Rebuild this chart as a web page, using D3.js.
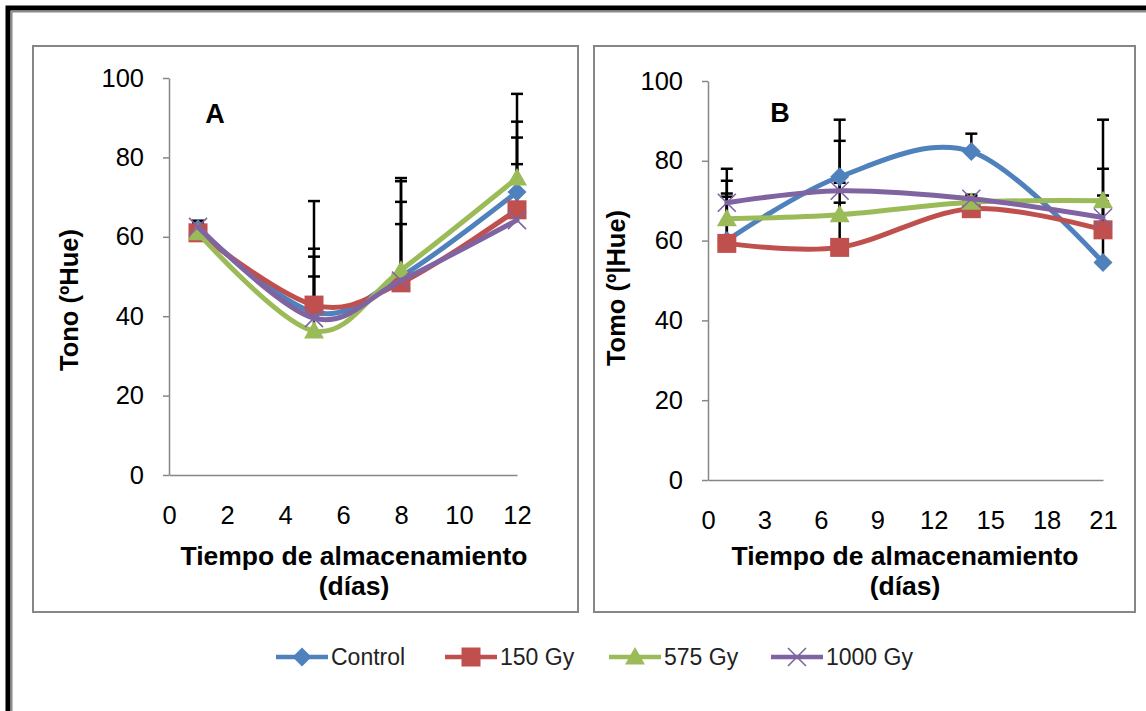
<!DOCTYPE html>
<html lang="es">
<head>
<meta charset="UTF-8" />
<title>Tono (ºHue) durante el almacenamiento</title>
<style>
  body { margin: 0; background: #fff; }
  svg { display: block; font-family: "Liberation Sans", Arial, sans-serif; }
</style>
</head>
<body>
<script src="https://cdn.jsdelivr.net/npm/d3@7"></script>
<svg id="chart" width="1146" height="711"></svg>
<script>
  // ---- datos ----
  const seriesNames = ['Control', '150 Gy', '575 Gy', '1000 Gy'];

  // panel A (días 1..12)
  const daysA = [1, 5, 8, 12];
  const controlA = [62, 41, 50, 71.3];
  const gy150A = [61, 42.8, 48.4, 66.8];
  const gy575A = [61, 36.3, 51.6, 74.8];
  const gy1000A = [62.5, 39.5, 49, 64.2];
  const errControlA = [2, 16, 13.2, 13.7];
  const err150A = [2.5, 26.2, 25.6, 11.5];
  const err575A = [2.5, 13.7, 17.2, 21.2];
  const err1000A = [1.5, 15.5, 25.8, 24.8];
  const xTicksA = [0, 2, 4, 6, 8, 10, 12];

  // panel B (días 1..21)
  const daysB = [1, 7, 14, 21];
  const controlB = [60, 76, 82.3, 54.5];
  const gy150B = [59.3, 58.3, 68, 62.7];
  const gy575B = [65.5, 66.5, 69.6, 70];
  const gy1000B = [69.5, 72.5, 70.5, 65.8];
  const errControlB = [18, 14.3, 4.5, 35.8];
  const err150B = [15.7, 26.7, 2, 15.3];
  const err575B = [6.3, 3, 1.5, 1.3];
  const err1000B = [1.5, 2, 1, 4];
  const xTicksB = [0, 3, 6, 9, 12, 15, 18, 21];

  const yTicks = [0, 20, 40, 60, 80, 100];

  // ---- estilo ----
  const colors = ['#4F81BD', '#C0504D', '#9BBB59', '#8064A2'];
  const markers = ['diamond', 'square', 'triangle', 'cross'];
  const axisGray = '#868686';

  const svg = d3.select('#chart');

  // marco exterior doble
  svg.append('path').attr('d', 'M8,711 V8 H1146')
    .attr('fill', 'none').attr('stroke', '#000').attr('stroke-width', 5);
  svg.append('path').attr('d', 'M11.8,711 V11.8 H1146')
    .attr('fill', 'none').attr('stroke', '#8a8a8a').attr('stroke-width', 1.5);

  function drawMarker(g, type, color) {
    if (type === 'diamond') {
      g.append('path').attr('d', 'M0,-9.5L9.5,0L0,9.5L-9.5,0Z').attr('fill', color);
    } else if (type === 'square') {
      g.append('rect').attr('x', -9.5).attr('y', -9.5).attr('width', 19).attr('height', 19).attr('fill', color);
    } else if (type === 'triangle') {
      g.append('path').attr('d', 'M0,-10L10,7.5L-10,7.5Z').attr('fill', color);
    } else {
      g.append('path').attr('d', 'M-9,-9L9,9M-9,9L9,-9')
        .attr('stroke', color).attr('stroke-width', 1.6).attr('fill', 'none');
    }
  }

  const panels = [
    {
      box: [33, 46, 545, 566], label: 'A', labelPos: [215, 114],
      xDomain: [0, 12], xRange: [169, 517], yRange: [475, 78], xTicks: xTicksA,
      days: daysA, values: [controlA, gy150A, gy575A, gy1000A],
      errors: [errControlA, err150A, err575A, err1000A],
      yTitle: 'Tono (ºHue)', yTitlePos: [69, 300], xTitleX: 354
    },
    {
      box: [594, 46, 541, 566], label: 'B', labelPos: [780, 113],
      xDomain: [0, 21], xRange: [708, 1103], yRange: [480, 81], xTicks: xTicksB,
      days: daysB, values: [controlB, gy150B, gy575B, gy1000B],
      errors: [errControlB, err150B, err575B, err1000B],
      yTitle: 'Tomo (º|Hue)', yTitlePos: [616, 288], xTitleX: 905
    }
  ];

  panels.forEach(p => {
    svg.append('rect')
      .attr('x', p.box[0]).attr('y', p.box[1])
      .attr('width', p.box[2]).attr('height', p.box[3])
      .attr('fill', '#fff').attr('stroke', axisGray).attr('stroke-width', 2);

    const x = d3.scaleLinear().domain(p.xDomain).range(p.xRange);
    const y = d3.scaleLinear().domain([0, 100]).range(p.yRange);

    // eje Y
    const gy = svg.append('g')
      .attr('transform', `translate(${p.xRange[0]},0)`)
      .call(d3.axisLeft(y).tickValues(yTicks).tickSize(6).tickSizeOuter(0).tickPadding(19));
    // eje X (sin marcas)
    const gx = svg.append('g')
      .attr('transform', `translate(0,${p.yRange[0]})`)
      .call(d3.axisBottom(x).tickValues(p.xTicks).tickSize(0).tickPadding(31));

    [gy, gx].forEach(g => {
      g.select('.domain').attr('stroke', axisGray).attr('stroke-width', 1.5);
      g.selectAll('.tick line').attr('stroke', axisGray).attr('stroke-width', 1.5);
      g.selectAll('.tick text').attr('fill', '#000')
        .style('font-size', '25.5px').style('font-family', '"Liberation Sans", Arial, sans-serif');
    });

    // títulos
    svg.append('text')
      .attr('transform', `translate(${p.yTitlePos[0]},${p.yTitlePos[1]}) rotate(-90)`)
      .attr('text-anchor', 'middle').attr('dominant-baseline', 'central')
      .style('font-size', '25.5px').style('font-weight', 'bold')
      .text(p.yTitle);

    const xt = svg.append('text')
      .attr('text-anchor', 'middle')
      .style('font-size', '26.5px').style('font-weight', 'bold');
    xt.append('tspan').attr('x', p.xTitleX).attr('y', 565).text('Tiempo de almacenamiento');
    xt.append('tspan').attr('x', p.xTitleX).attr('y', 595).text('(días)');

    svg.append('text')
      .attr('x', p.labelPos[0]).attr('y', p.labelPos[1])
      .attr('text-anchor', 'middle').attr('dominant-baseline', 'central')
      .style('font-size', '27px').style('font-weight', 'bold')
      .text(p.label);

    // barras de error (solo positivas)
    const eg = svg.append('g').attr('stroke', '#000').attr('stroke-width', 2.5);
    p.values.forEach((vals, s) => {
      vals.forEach((v, i) => {
        const cx = x(p.days[i]);
        const top = y(v + p.errors[s][i]);
        eg.append('line').attr('x1', cx).attr('x2', cx).attr('y1', y(v)).attr('y2', top);
        eg.append('line').attr('x1', cx - 6).attr('x2', cx + 6).attr('y1', top).attr('y2', top);
      });
    });

    // líneas suavizadas y marcadores
    const line = d3.line()
      .x((d, i) => x(p.days[i]))
      .y(d => y(d))
      .curve(d3.curveCardinal.tension(0));

    p.values.forEach((vals, s) => {
      svg.append('path').datum(vals)
        .attr('d', line)
        .attr('fill', 'none')
        .attr('stroke', colors[s])
        .attr('stroke-width', 5)
        .attr('stroke-linecap', 'round');
      vals.forEach((v, i) => {
        const g = svg.append('g').attr('transform', `translate(${x(p.days[i])},${y(v)})`);
        drawMarker(g, markers[s], colors[s]);
      });
    });
  });

  // leyenda
  const legendX = d3.scaleOrdinal().domain(seriesNames).range([276, 445, 609, 771]);
  const legendY = 657;
  seriesNames.forEach((name, s) => {
    const lx = legendX(name);
    svg.append('line')
      .attr('x1', lx).attr('x2', lx + 52).attr('y1', legendY).attr('y2', legendY)
      .attr('stroke', colors[s]).attr('stroke-width', 4.5);
    const g = svg.append('g').attr('transform', `translate(${lx + 26},${legendY})`);
    drawMarker(g, markers[s], colors[s]);
    svg.append('text')
      .attr('x', lx + 55).attr('y', legendY)
      .attr('dominant-baseline', 'central')
      .style('font-size', '23px').style('fill', '#222')
      .text(name);
  });
</script>
</body>
</html>
